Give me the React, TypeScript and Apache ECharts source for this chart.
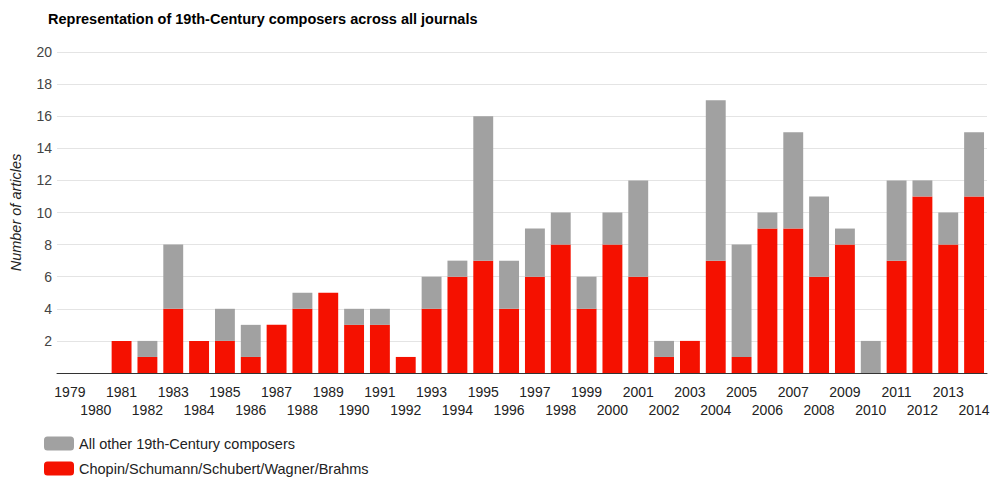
import React, { useEffect, useRef } from "react";
import * as echarts from "echarts";

const years: string[] = [
  "1979", "1980", "1981", "1982", "1983", "1984", "1985", "1986", "1987", "1988",
  "1989", "1990", "1991", "1992", "1993", "1994", "1995", "1996", "1997", "1998",
  "1999", "2000", "2001", "2002", "2003", "2004", "2005", "2006", "2007", "2008",
  "2009", "2010", "2011", "2012", "2013", "2014",
];

const mainComposers: number[] = [
  0, 0, 2, 1, 4, 2, 2, 1, 3, 4,
  5, 3, 3, 1, 4, 6, 7, 4, 6, 8,
  4, 8, 6, 1, 2, 7, 1, 9, 9, 6,
  8, 0, 7, 11, 8, 11,
];

const otherComposers: number[] = [
  0, 0, 0, 1, 4, 0, 2, 2, 0, 1,
  0, 1, 1, 0, 2, 1, 9, 3, 3, 2,
  2, 2, 6, 1, 0, 10, 7, 1, 6, 5,
  1, 2, 5, 1, 2, 4,
];

const seriesNames = {
  main: "Chopin/Schumann/Schubert/Wagner/Brahms",
  other: "All other 19th-Century composers",
};

const FONT = "'Liberation Sans', Arial, sans-serif";

export default function App() {
  const ref = useRef<HTMLDivElement>(null);

  useEffect(() => {
    if (!ref.current) return;
    const chart = echarts.init(ref.current, undefined, { renderer: "svg" });
    chart.setOption({
      animation: false,
      backgroundColor: "#ffffff",
      textStyle: { fontFamily: FONT },
      title: {
        text: "Representation of 19th-Century composers across all journals",
        left: 48,
        top: 11,
        padding: 0,
        textStyle: { fontFamily: FONT, fontSize: 14.5, fontWeight: "bold", color: "#000000" },
      },
      legend: {
        orient: "vertical",
        left: 44,
        top: 436,
        padding: 0,
        itemWidth: 30,
        itemHeight: 14,
        itemGap: 10,
        data: [seriesNames.other, seriesNames.main],
        textStyle: { fontFamily: FONT, fontSize: 14.5, color: "#222222" },
      },
      grid: { left: 48, right: 13, top: 52, bottom: 120, containLabel: false },
      xAxis: {
        type: "category",
        data: years,
        axisLine: { show: true, lineStyle: { color: "#333333", width: 1 } },
        axisTick: { show: false },
        axisLabel: {
          interval: 0,
          margin: 10,
          fontFamily: FONT,
          fontSize: 14,
          color: "#222222",
          lineHeight: 18,
          formatter: (value: string, index: number) => (index % 2 === 1 ? "\n" + value : value),
        },
      },
      yAxis: {
        type: "value",
        min: 0,
        max: 20,
        interval: 2,
        name: "Number of articles",
        nameLocation: "middle",
        nameGap: 34,
        nameRotate: 90,
        nameTextStyle: { fontFamily: FONT, fontSize: 14.5, fontStyle: "italic", color: "#222222" },
        axisLine: { show: false },
        axisTick: { show: false },
        splitLine: { lineStyle: { color: "#e4e4e4", width: 1 } },
        axisLabel: {
          fontFamily: FONT,
          fontSize: 14,
          color: "#444444",
          margin: 5,
          formatter: (v: number) => (v === 0 ? "" : String(v)),
        },
      },
      series: [
        {
          name: seriesNames.main,
          type: "bar",
          stack: "total",
          data: mainComposers,
          barWidth: "77%",
          itemStyle: { color: "#f51100" },
        },
        {
          name: seriesNames.other,
          type: "bar",
          stack: "total",
          data: otherComposers,
          barWidth: "77%",
          itemStyle: { color: "#a1a1a1" },
        },
      ],
    });
    return () => chart.dispose();
  }, []);

  return (
    <div
      ref={ref}
      style={{ position: "fixed", left: 0, top: 0, width: 1000, height: 493 }}
    />
  );
}
